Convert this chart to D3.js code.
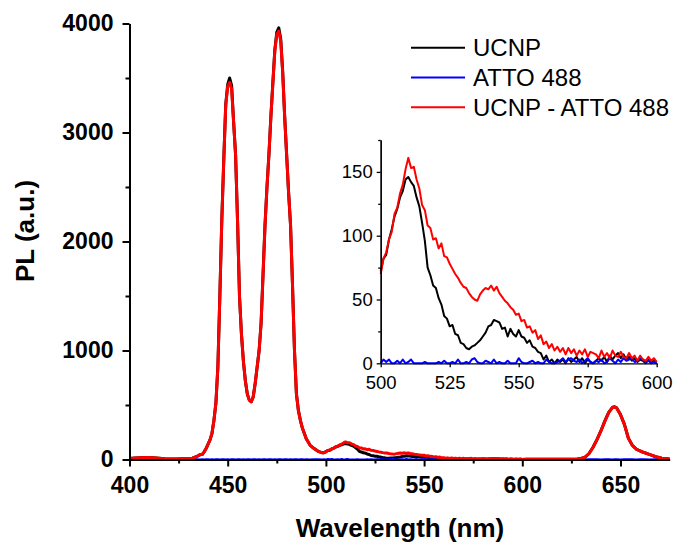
<!DOCTYPE html>
<html>
<head>
<meta charset="utf-8">
<script src="https://cdn.jsdelivr.net/npm/d3@7"></script>
<style>
  body { margin: 0; background: #fff; }
  svg { display: block; }
  text { font-family: "Liberation Sans", Arial, sans-serif; fill: #000; }
</style>
</head>
<body>
<svg id="chart" width="679" height="542"></svg>
<script>
// ---- data ----
// 400-499 nm, coarse where flat
const wlMain = [400,403,406,409,412,415,418,421,424,427,430,432,434,436,
  437,438,439,440,441,442,443,444,445,446,447,448,449,450,451,452,453,454,455,456,457,458,459,460,
  461,462,463,464,465,466,467,468,469,470,471,472,473,474,475,476,477,478,479,480,481,482,483,484,
  485,486,487,488,489,490,492,494,496,498,499];
const ucnpMain = [10,14,17,18,15,11,7,5,5,6,8,12,25,45,
  45,70,100,140,180,240,360,520,850,1500,2200,2750,3260,3440,3500,3430,3100,2800,2200,1500,1150,900,720,600,
  545,530,575,700,850,1000,1250,1700,2150,2500,2800,3150,3460,3760,3920,3960,3860,3560,3150,2800,2450,2150,1600,1000,
  600,450,360,290,240,190,130,100,75,63,62];
const hybridMain = [10,14,17,18,15,11,7,5,5,6,8,12,25,45,
  45,70,100,140,180,240,360,520,850,1500,2200,2750,3250,3420,3460,3400,3100,2800,2200,1500,1150,900,720,600,
  545,530,575,700,850,1000,1250,1700,2150,2500,2800,3150,3450,3750,3900,3930,3840,3550,3150,2800,2450,2150,1600,1000,
  600,450,360,290,240,190,130,100,75,63,62];
const attoMain = [1,0,1,1,0,1,1,0,1,1,0,1,1,0,
  1,0,1,1,0,1,0,1,1,0,1,1,0,1,0,1,1,0,1,1,0,1,0,1,
  1,0,1,1,0,1,0,1,1,0,1,1,0,1,0,1,1,0,1,1,0,1,0,1,
  1,0,1,1,0,1,0,1,1,0,1];

// 500-600 nm, 1 nm steps (the inset range)
const fineStart = 500, fineEnd = 600;
const ucnpFine = [72,82,85,97,105,115,121,130,135,144,
  146,142,139,130,123,110,96,75,69,61,
  59,51,46,37,35,29,30,23,22,16,
  15,12,11,13,14,16,18,21,24,29,
  30,34,33,32,27,28,21,27,23,21,
  26,21,20,16,18,13,12,9,8,3,
  6,1,3,0,3,1,3,0,4,1,
  3,5,1,4,0,3,1,0,2,4,
  2,5,1,6,3,6,8,4,7,3,
  5,2,4,1,3,2,0,3,1,2,
  1];
const hybridFine = [70,82,87,97,103,117,122,133,140,152,
  161,153,154,144,137,124,120,108,106,97,
  98,90,94,84,83,78,74,70,67,63,
  60,59,55,52,50,49,54,57,59,58,
  61,57,60,55,52,49,47,44,42,38,
  39,33,34,28,29,24,26,19,22,15,
  17,12,15,10,13,9,12,7,12,8,
  11,6,10,7,11,5,9,8,7,4,
  10,5,8,4,10,6,5,9,5,4,
  8,4,6,2,6,3,2,5,2,4,
  1];
const attoFine = [0,3,1,3,0,0,2,0,3,0,
  1,3,0,0,0,0,1,0,0,0,
  0,1,0,2,0,0,1,0,3,0,
  0,1,0,3,4,1,0,0,2,1,
  0,3,0,1,0,0,2,0,0,0,
  4,1,0,0,1,2,0,1,0,0,
  3,1,0,0,1,2,4,1,3,4,
  2,1,3,0,2,4,1,0,2,1,
  3,0,1,4,2,0,3,1,4,2,
  3,4,1,2,4,3,1,2,0,1,
  0];

// 601-675 nm
const wlTail = [602,605,610,615,620,625,628,630,632,634,636,638,640,642,644,646,647,648,650,652,654,656,658,660,662,665,668,671,675];
const ucnpTail = [2,3,2,2,3,3,5,9,22,55,112,182,262,352,432,480,484,474,412,322,196,131,96,78,64,45,25,12,5];
const hybridTail = [3,3,2,2,2,3,5,9,22,55,110,180,260,350,430,478,482,472,410,320,195,130,95,78,64,45,25,12,5];
const attoTail = [1,1,0,1,1,0,1,1,0,1,1,1,0,1,1,0,1,1,0,1,1,1,0,1,1,0,1,1,0];

const seriesNames = ["UCNP", "ATTO 488", "UCNP - ATTO 488"];
const seriesColors = ["#000000", "#0000ff", "#ff0000"];

const mainXTicks = [400,450,500,550,600,650];
const mainXMinor = [425,475,525,575,625];
const mainYTicks = [0,1000,2000,3000,4000];
const mainYMinor = [500,1500,2500,3500];
const insetXTicks = [500,525,550,575,600];
const insetYTicks = [0,50,100,150];
const insetYMinor = [25,75,125,175];

// ---- assemble series ----
const wlFine = d3.range(fineStart, fineEnd + 1);
const wl = wlMain.concat(wlFine, wlTail);
const cols = [
  ucnpMain.concat(ucnpFine, ucnpTail),
  attoMain.concat(attoFine, attoTail),
  hybridMain.concat(hybridFine, hybridTail)
];
const series = cols.map((vals, i) => ({
  name: seriesNames[i],
  color: seriesColors[i],
  pts: wl.map((w, j) => ({wl: w, v: vals[j]}))
}));

const svg = d3.select("#chart");
const fmt = d3.format("d");

// ---- main plot ----
const x = d3.scaleLinear().domain([400, 675]).range([129.5, 669.6]);
const y = d3.scaleLinear().domain([0, 4000]).range([459.5, 23.5]);

function styleAxis(g, size, bold, width) {
  g.select(".domain").attr("stroke", "#000").attr("stroke-width", width);
  g.selectAll(".tick line").attr("stroke", "#000").attr("stroke-width", width);
  g.selectAll("text").style("font-size", size + "px").style("font-weight", bold ? "bold" : "normal")
    .attr("fill", "#000");
}

const line = d3.line().x(d => x(d.wl)).y(d => y(d.v));
svg.append("g").selectAll("path").data(series).join("path")
  .attr("d", d => line(d.pts))
  .attr("fill", "none")
  .attr("stroke", d => d.color)
  .attr("stroke-width", d => d.name === "ATTO 488" ? 2.2 : 3)
  .attr("stroke-linejoin", "round");

svg.append("g").attr("transform", "translate(0,459.5)")
  .call(d3.axisBottom(x).tickValues(mainXMinor).tickSize(4).tickFormat("").tickSizeOuter(0))
  .call(g => styleAxis(g, 23, true, 2));
svg.append("g").attr("transform", "translate(0,459.5)")
  .call(d3.axisBottom(x).tickValues(mainXTicks).tickSize(7).tickPadding(10).tickFormat(fmt).tickSizeOuter(0))
  .call(g => styleAxis(g, 23, true, 2));
svg.append("g").attr("transform", "translate(129.5,0)")
  .call(d3.axisLeft(y).tickValues(mainYMinor).tickSize(4).tickFormat("").tickSizeOuter(0))
  .call(g => styleAxis(g, 23, true, 2));
svg.append("g").attr("transform", "translate(129.5,0)")
  .call(d3.axisLeft(y).tickValues(mainYTicks).tickSize(7).tickPadding(9).tickFormat(fmt).tickSizeOuter(0))
  .call(g => styleAxis(g, 23, true, 2));

svg.append("text")
  .attr("x", 400).attr("y", 537)
  .attr("text-anchor", "middle")
  .style("font-size", "26px").style("font-weight", "bold")
  .text("Wavelength (nm)");
svg.append("text")
  .attr("transform", "translate(34,231) rotate(-90)")
  .attr("text-anchor", "middle")
  .style("font-size", "26px").style("font-weight", "bold")
  .text("PL (a.u.)");

// ---- legend ----
const leg = svg.append("g").selectAll("g").data(series).join("g")
  .attr("transform", (d, i) => `translate(411,${47.7 + i * 29.8})`);
leg.append("line").attr("x1", 0).attr("x2", 54)
  .attr("stroke", d => d.color).attr("stroke-width", 2);
leg.append("text").attr("x", 62).attr("y", 8.6)
  .style("font-size", "24px")
  .text(d => d.name);

// ---- inset ----
const xi = d3.scaleLinear().domain([500, 600]).range([380.7, 656.7]);
const yi = d3.scaleLinear().domain([0, 175]).range([363.3, 140]);
const lineI = d3.line().x(d => xi(d.wl)).y(d => yi(d.v));
svg.append("g").selectAll("path").data(series).join("path")
  .attr("d", d => lineI(d.pts.filter(p => p.wl >= 500 && p.wl <= 600)))
  .attr("fill", "none")
  .attr("stroke", d => d.color)
  .attr("stroke-width", 2)
  .attr("stroke-linejoin", "round");

svg.append("g").attr("transform", "translate(0,363.3)")
  .call(d3.axisBottom(xi).tickValues(insetXTicks).tickSize(4).tickPadding(9).tickFormat(fmt).tickSizeOuter(0))
  .call(g => styleAxis(g, 18.5, false, 1.3));
svg.append("g").attr("transform", "translate(380.7,0)")
  .call(d3.axisLeft(yi).tickValues(insetYMinor).tickSize(2.5).tickFormat("").tickSizeOuter(0))
  .call(g => styleAxis(g, 18.5, false, 1.3));
svg.append("g").attr("transform", "translate(380.7,0)")
  .call(d3.axisLeft(yi).tickValues(insetYTicks).tickSize(4).tickPadding(4).tickFormat(fmt).tickSizeOuter(0))
  .call(g => styleAxis(g, 18.5, false, 1.3));
</script>
</body>
</html>
